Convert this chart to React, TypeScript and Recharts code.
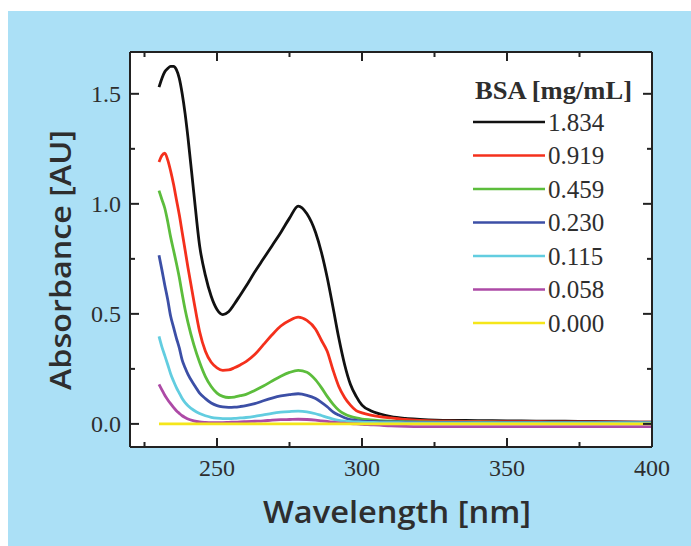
import React from "react";
import {
  LineChart,
  Line,
  XAxis,
  YAxis,
  CartesianGrid,
  Legend,
} from "recharts";

// wavelength grid in nm
const WAVELENGTH = [
  230, 231, 232, 233, 234, 235, 236, 237, 238, 239, 240, 242, 244, 246, 248,
  250, 252, 254, 256, 258, 260, 263, 266, 269, 272, 275, 278, 281, 284, 286,
  288, 290, 292, 294, 296, 298, 300, 303, 306, 310, 315, 320, 330, 340, 350,
  360, 370, 380, 390, 400,
];

// absorbance per BSA concentration (mg/mL)
const BSA_1834 = [
  1.53, 1.57, 1.6, 1.615, 1.625, 1.625, 1.61, 1.57, 1.5, 1.41, 1.3, 1.05, 0.81,
  0.675, 0.58, 0.52, 0.497, 0.51, 0.545, 0.585, 0.625, 0.69, 0.75, 0.81,
  0.87, 0.935, 0.99, 0.955, 0.87, 0.78, 0.665, 0.53, 0.39, 0.27, 0.18, 0.125,
  0.085, 0.06, 0.046, 0.033, 0.025, 0.021, 0.016, 0.015, 0.014, 0.013, 0.012,
  0.011, 0.009, 0.008,
];
const BSA_0919 = [
  1.19, 1.22, 1.23, 1.2, 1.15, 1.09, 1.02, 0.95, 0.87, 0.79, 0.71, 0.56, 0.42,
  0.33, 0.28, 0.255, 0.243, 0.245, 0.255, 0.268, 0.283, 0.315, 0.36, 0.405,
  0.445, 0.47, 0.485, 0.47, 0.43, 0.38, 0.33, 0.245, 0.17, 0.12, 0.085, 0.06,
  0.05, 0.04, 0.033, 0.027, 0.02, 0.016, 0.012, 0.011, 0.01, 0.01, 0.009,
  0.009, 0.008, 0.008,
];
const BSA_0459 = [
  1.06, 1.02, 0.98, 0.92, 0.85, 0.79, 0.73, 0.665, 0.59, 0.52, 0.46, 0.36,
  0.28, 0.215, 0.17, 0.14, 0.125, 0.12, 0.122, 0.128, 0.134, 0.152, 0.172,
  0.195, 0.217, 0.234, 0.243, 0.235, 0.2, 0.165, 0.125, 0.09, 0.062, 0.045,
  0.034, 0.027, 0.022, 0.018, 0.015, 0.012, 0.01, 0.009, 0.008, 0.008, 0.007,
  0.007, 0.007, 0.006, 0.006, 0.006,
];
const BSA_0230 = [
  0.766, 0.7, 0.63, 0.565, 0.49, 0.44, 0.39, 0.345, 0.29, 0.255, 0.225, 0.18,
  0.14, 0.115, 0.095, 0.083, 0.077, 0.075, 0.076, 0.079, 0.083, 0.092, 0.105,
  0.117, 0.127, 0.133, 0.137, 0.13, 0.115, 0.098, 0.078, 0.055, 0.04, 0.028,
  0.02, 0.016, 0.013, 0.011, 0.01, 0.009, 0.008, 0.007, 0.007, 0.006, 0.006,
  0.006, 0.006, 0.006, 0.006, 0.006,
];
const BSA_0115 = [
  0.398, 0.35, 0.31, 0.27, 0.228, 0.195, 0.165, 0.14, 0.115, 0.097, 0.083,
  0.062, 0.047, 0.037, 0.03, 0.026, 0.024, 0.024, 0.025, 0.027, 0.029, 0.034,
  0.041, 0.048, 0.053, 0.056, 0.058, 0.055, 0.046, 0.038, 0.03, 0.022, 0.016,
  0.012, 0.01, 0.009, 0.008, 0.007, 0.006, 0.006, 0.005, 0.005, 0.005, 0.005,
  0.005, 0.005, 0.005, 0.005, 0.005, 0.005,
];
const BSA_0058 = [
  0.18, 0.155, 0.13, 0.11, 0.092, 0.075, 0.06, 0.048, 0.037, 0.029, 0.022,
  0.014, 0.009, 0.007, 0.006, 0.006, 0.006, 0.007, 0.008, 0.009, 0.01, 0.012,
  0.014, 0.017, 0.019, 0.02, 0.021, 0.02, 0.017, 0.014, 0.011, 0.008, 0.005,
  0.003, 0.001, 0, -0.002, -0.004, -0.006, -0.009, -0.011, -0.012, -0.012,
  -0.012, -0.012, -0.012, -0.012, -0.012, -0.012, -0.012,
];
const BSA_0000 = WAVELENGTH.map(() => 0);

const SERIES = [
  { key: "c1834", label: "1.834", color: "#111111", values: BSA_1834 },
  { key: "c0919", label: "0.919", color: "#f4301c", values: BSA_0919 },
  { key: "c0459", label: "0.459", color: "#5cbd3c", values: BSA_0459 },
  { key: "c0230", label: "0.230", color: "#3c4fa6", values: BSA_0230 },
  { key: "c0115", label: "0.115", color: "#62cde0", values: BSA_0115 },
  { key: "c0058", label: "0.058", color: "#ad4aa6", values: BSA_0058 },
  { key: "c0000", label: "0.000", color: "#f5e61a", values: BSA_0000 },
];

const X_TICKS = [225, 250, 275, 300, 325, 350, 375, 400];
const Y_TICKS = [0, 0.25, 0.5, 0.75, 1, 1.25, 1.5];

const data = WAVELENGTH.map((w, i) => {
  const row: Record<string, number> = { w };
  SERIES.forEach((s) => (row[s.key] = s.values[i]));
  return row;
});

const FRAME = "#222";
const TXT = "#2e2e2e";
const SERIF = "'Liberation Serif', 'Times New Roman', serif";
const SANS = "'Open Sans', 'Noto Sans', sans-serif";

const isMajorX = (v: number) => v % 50 === 0;
const isMajorY = (v: number) => Math.abs(v * 2 - Math.round(v * 2)) < 1e-6;

function BottomTick({ x, y, payload }: any) {
  const major = isMajorX(payload.value);
  return (
    <g>
      <line x1={x} x2={x} y1={y} y2={y - (major ? 9 : 5)} stroke={FRAME} strokeWidth={2} />
      {major && (
        <text x={x} y={y + 29} textAnchor="middle" fontFamily={SERIF} fontSize={24} fill={TXT}>
          {payload.value}
        </text>
      )}
    </g>
  );
}

function TopTick({ x, y, payload }: any) {
  const major = isMajorX(payload.value);
  return <line x1={x} x2={x} y1={y} y2={y + (major ? 9 : 5)} stroke={FRAME} strokeWidth={2} />;
}

function LeftTick({ x, y, payload }: any) {
  const major = isMajorY(payload.value);
  return (
    <g>
      <line x1={x} x2={x + (major ? 9 : 5)} y1={y} y2={y} stroke={FRAME} strokeWidth={2} />
      {major && (
        <text x={x - 9} y={y + 8} textAnchor="end" fontFamily={SERIF} fontSize={24} fill={TXT}>
          {payload.value.toFixed(1)}
        </text>
      )}
    </g>
  );
}

function RightTick({ x, y, payload }: any) {
  const major = isMajorY(payload.value);
  return <line x1={x} x2={x - (major ? 9 : 5)} y1={y} y2={y} stroke={FRAME} strokeWidth={2} />;
}

function ConcLegend() {
  return (
    <svg width={200} height={280}>
      <text x={7} y={28} fontFamily={SERIF} fontWeight="bold" fontSize={25} fill={TXT}
        textLength={157} lengthAdjust="spacingAndGlyphs">
        BSA [mg/mL]
      </text>
      {SERIES.map((s, i) => {
        const cy = 51 + i * 33.5;
        return (
          <g key={s.key}>
            <line x1={5} x2={77} y1={cy} y2={cy} stroke={s.color} strokeWidth={2.6} />
            <text x={80} y={cy + 8.5} fontFamily={SERIF} fontSize={25} fill={TXT}>
              {s.label}
            </text>
          </g>
        );
      })}
    </svg>
  );
}

export default function App() {
  return (
    <div
      style={{
        position: "absolute",
        left: 8,
        top: 11,
        width: 683,
        height: 535,
        background: "#abe0f6",
      }}
    >
      <LineChart
        width={683}
        height={535}
        data={data}
        margin={{ top: 40, right: 38, bottom: 0, left: 0 }}
      >
        <CartesianGrid fill="#ffffff" stroke="none" horizontal={false} vertical={false} />
        <XAxis
          dataKey="w"
          type="number"
          xAxisId="b"
          domain={[220, 400]}
          ticks={X_TICKS}
          interval={0}
          allowDataOverflow
          height={99}
          tickSize={0}
          tickMargin={0}
          tick={BottomTick}
          axisLine={{ stroke: FRAME, strokeWidth: 2 }}
        />
        <XAxis
          dataKey="w"
          type="number"
          xAxisId="t"
          orientation="top"
          domain={[220, 400]}
          ticks={X_TICKS}
          interval={0}
          allowDataOverflow
          height={1}
          tickSize={0}
          tickMargin={0}
          tick={TopTick}
          axisLine={{ stroke: FRAME, strokeWidth: 2 }}
        />
        <YAxis
          yAxisId="l"
          type="number"
          domain={[-0.105, 1.69]}
          ticks={Y_TICKS}
          interval={0}
          allowDataOverflow
          width={122}
          tickSize={0}
          tickMargin={0}
          tick={LeftTick}
          axisLine={{ stroke: FRAME, strokeWidth: 2 }}
          label={{
            content: () => (
              <text
                transform="translate(63,249) rotate(-90)"
                textAnchor="middle"
                fontFamily={SANS}
                fontWeight={600}
                fontSize={29}
                fill={TXT}
                textLength={260}
                lengthAdjust="spacingAndGlyphs"
              >
                Absorbance [AU]
              </text>
            ),
          }}
        />
        <YAxis
          yAxisId="r"
          orientation="right"
          type="number"
          domain={[-0.105, 1.69]}
          ticks={Y_TICKS}
          interval={0}
          allowDataOverflow
          width={1}
          tickSize={0}
          tickMargin={0}
          tick={RightTick}
          axisLine={{ stroke: FRAME, strokeWidth: 2 }}
        />
        <Legend
          layout="horizontal"
          verticalAlign="middle"
          align="center"
          content={() => <ConcLegend />}
          wrapperStyle={{ position: "absolute", left: 460, top: 60, width: 200, height: 280 }}
        />
        {SERIES.map((s) => (
          <Line
            key={s.key}
            xAxisId="b"
            yAxisId="l"
            dataKey={s.key}
            type="monotone"
            stroke={s.color}
            strokeWidth={2.8}
            dot={false}
            activeDot={false}
            isAnimationActive={false}
          />
        ))}
      </LineChart>
      <svg
        width={683}
        height={60}
        style={{ position: "absolute", left: 0, top: 475 }}
      >
        <text
          x={389}
          y={37}
          textAnchor="middle"
          fontFamily={SANS}
          fontWeight={600}
          fontSize={31}
          fill={TXT}
          textLength={268}
          lengthAdjust="spacingAndGlyphs"
        >
          Wavelength [nm]
        </text>
      </svg>
    </div>
  );
}
